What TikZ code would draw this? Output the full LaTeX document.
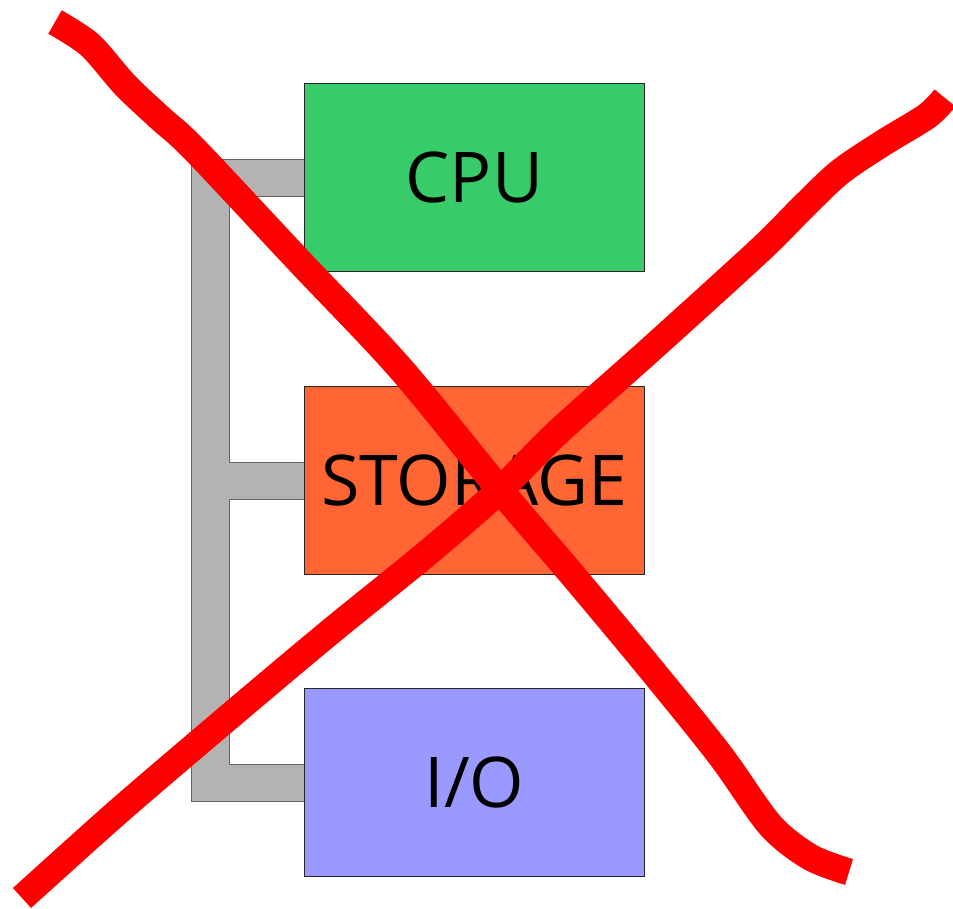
\documentclass[tikz,border=0pt]{standalone}
\usepackage{fontspec}
\setmainfont{Open Sans}
\definecolor{cpugreen}{RGB}{55,203,106}
\definecolor{storeorange}{RGB}{255,102,51}
\definecolor{iolilac}{RGB}{153,153,255}
\definecolor{busgray}{RGB}{179,179,179}
\definecolor{busedge}{RGB}{100,100,100}
\begin{document}
\begin{tikzpicture}[x=1pt,y=-1pt,
  unit/.style={draw=black!85,line width=0.8pt,minimum width=340pt,minimum height=188pt,
    inner sep=0pt,anchor=north west,font=\fontsize{70}{70}\selectfont},
  strike/.style={draw=red,line width=27pt,line cap=butt,line join=round}]
\useasboundingbox (0,0) rectangle (953,908);
% shared bus joining the three units
\draw[fill=busgray,draw=busedge,line width=1pt]
  (191,159) -- (304,159) -- (304,196) -- (229,196) -- (229,462) -- (304,462)
  -- (304,499) -- (229,499) -- (229,764) -- (304,764) -- (304,801) -- (191,801) -- cycle;
% the three units
\node[unit,fill=cpugreen] (cpu) at (304,83) {CPU};
\node[unit,fill=storeorange] (storage) at (304,386) {STORAGE};
\node[unit,fill=iolilac] (io) at (304,688) {I/O};
% hand-drawn cross over the whole picture
\draw[strike] plot[smooth,tension=0.5] coordinates {
  (55,22) (90,45) (125,85) (160,118) (195,150) (300,262) (400,368)
  (500,490) (575,578) (650,668) (720,755) (770,825) (810,857) (849,872)};
\draw[strike] plot[smooth,tension=0.5] coordinates {
  (945,98) (927,116) (883,143) (840,172) (803,207) (760,250)
  (650,350) (557,433) (500,490) (425,555)
  (330,632) (230,716) (120,810) (22,898)};
\end{tikzpicture}
\end{document}
